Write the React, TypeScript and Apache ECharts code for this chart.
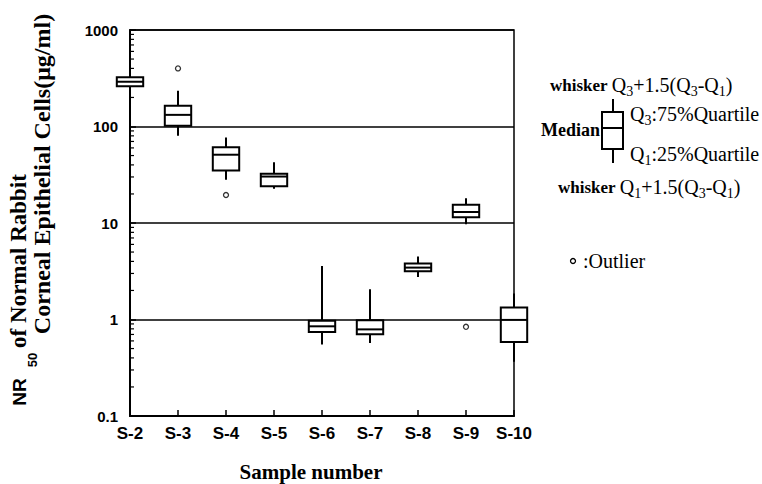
import React, { useEffect, useRef } from 'react';
import * as echarts from 'echarts';

const categories = ['S-2', 'S-3', 'S-4', 'S-5', 'S-6', 'S-7', 'S-8', 'S-9', 'S-10'];
const whiskerLow = [198, 80, 28, 22.6, 0.55, 0.57, 2.76, 9.7, 0.364];
const quartile1 = [261, 102, 35, 24, 0.74, 0.705, 3.16, 11.5, 0.586];
const medians = [291, 132, 51, 30.3, 0.85, 0.79, 3.45, 13, 0.99];
const quartile3 = [323, 164, 61, 32.3, 0.97, 0.98, 3.8, 15.5, 1.33];
const whiskerHigh = [372, 235, 77, 42.6, 3.58, 2.06, 4.5, 18.1, 1.86];
const outlierSamples = ['S-3', 'S-4', 'S-9'];
const outlierValues = [400, 19.5, 0.84];
const yTickLabels = ['0.1', '1', '10', '100', '1000'];
const minorMantissas = [2, 3, 4, 5, 6, 7, 8, 9];
const minorDecades = [0.1, 1, 10, 100];

const SANS = '"Liberation Sans", Arial, sans-serif';
const SERIF = '"Liberation Serif", "Times New Roman", serif';

export default function App() {
  const ref = useRef<HTMLDivElement>(null);
  useEffect(() => {
    document.body.style.margin = '0';
    const chart = echarts.init(ref.current!, null, { renderer: 'svg' });

    const boxData = categories.map((c, i) => [i, whiskerLow[i], quartile1[i], medians[i], quartile3[i], whiskerHigh[i]]);
    const outlierData = outlierSamples.map((s, i) => [categories.indexOf(s), outlierValues[i]]);
    const minorData: number[][] = [];
    minorDecades.forEach((d) => minorMantissas.forEach((m) => minorData.push([0, +(m * d).toPrecision(3)])));

    const black = '#000';
    const lw = 2;

    const subRich = {
      b: { fontFamily: SERIF, fontWeight: 'bold', fontSize: 17, lineHeight: 26, fill: black },
      q: { fontFamily: SERIF, fontSize: 20, lineHeight: 26, fill: black },
      s: { fontFamily: SERIF, fontSize: 14, lineHeight: 12, verticalAlign: 'bottom', fill: black },
    };

    const option: any = {
      animation: false,
      backgroundColor: '#fff',
      grid: { left: 130, right: 248, top: 30, bottom: 68, show: true, borderColor: black, borderWidth: 1.5, backgroundColor: 'transparent' },
      xAxis: {
        type: 'category',
        data: categories,
        boundaryGap: false,
        axisLine: { lineStyle: { color: black, width: 2 } },
        axisTick: { inside: true, length: 6, lineStyle: { color: black, width: 1.5 } },
        axisLabel: { color: black, fontFamily: SANS, fontWeight: 'bold', fontSize: 17, margin: 9 },
        splitLine: { show: false },
      },
      yAxis: {
        type: 'log',
        logBase: 10,
        min: 0.1,
        max: 1000,
        axisLine: { show: true, lineStyle: { color: black, width: 2 } },
        axisTick: { show: true, inside: true, length: 6, lineStyle: { color: black, width: 1.5 } },
        axisLabel: {
          color: black,
          fontFamily: SANS,
          fontWeight: 'bold',
          fontSize: 15,
          margin: 12,
          formatter: (v: number) => {
            const idx = Math.round(Math.log10(v)) + 1;
            return yTickLabels[idx] ?? '';
          },
        },
        splitLine: { show: true, lineStyle: { color: black, width: 1.5 } },
        minorTick: { show: false },
      },
      series: [
        {
          type: 'custom',
          name: 'minorTicks',
          data: minorData,
          encode: { x: 0, y: 1 },
          renderItem: (params: any, api: any) => {
            const p = api.coord([api.value(0), api.value(1)]);
            return {
              type: 'line',
              shape: { x1: p[0], y1: p[1], x2: p[0] + 4, y2: p[1] },
              style: { stroke: black, lineWidth: 1.2 },
            };
          },
          z: 3,
        },
        {
          type: 'custom',
          name: 'boxes',
          data: boxData,
          encode: { x: 0, y: [1, 2, 3, 4, 5] },
          renderItem: (params: any, api: any) => {
            const i = api.value(0);
            const lo = api.coord([i, api.value(1)]);
            const q1 = api.coord([i, api.value(2)]);
            const md = api.coord([i, api.value(3)]);
            const q3 = api.coord([i, api.value(4)]);
            const hi = api.coord([i, api.value(5)]);
            const w = api.size([1, 0])[0] * 0.55;
            const x = lo[0];
            return {
              type: 'group',
              children: [
                { type: 'line', shape: { x1: x, y1: hi[1], x2: x, y2: q3[1] }, style: { stroke: black, lineWidth: lw } },
                { type: 'line', shape: { x1: x, y1: q1[1], x2: x, y2: lo[1] }, style: { stroke: black, lineWidth: lw } },
                { type: 'rect', shape: { x: x - w / 2, y: q3[1], width: w, height: q1[1] - q3[1] }, style: { fill: '#fff', stroke: black, lineWidth: lw } },
                { type: 'line', shape: { x1: x - w / 2, y1: md[1], x2: x + w / 2, y2: md[1] }, style: { stroke: black, lineWidth: lw } },
              ],
            };
          },
          z: 4,
        },
        {
          type: 'scatter',
          name: 'outliers',
          data: outlierData,
          symbol: 'circle',
          symbolSize: 5,
          itemStyle: { color: '#fff', borderColor: black, borderWidth: 1.3 },
          z: 5,
        },
      ],
      graphic: [
        {
          type: 'text',
          x: 19,
          y: 392,
          rotation: Math.PI / 2,
          style: { text: 'NR', align: 'center', verticalAlign: 'middle', fontFamily: SANS, fontWeight: 'bold', fontSize: 19, fill: black },
        },
        {
          type: 'text',
          x: 32,
          y: 360,
          rotation: Math.PI / 2,
          style: { text: '50', align: 'center', verticalAlign: 'middle', fontFamily: SANS, fontWeight: 'bold', fontSize: 13, fill: black },
        },
        {
          type: 'text',
          x: 18,
          y: 261,
          rotation: Math.PI / 2,
          style: { text: 'of Normal Rabbit', align: 'center', verticalAlign: 'middle', fontFamily: SERIF, fontWeight: 'bold', fontSize: 23, fill: black },
        },
        {
          type: 'text',
          x: 42,
          y: 174,
          rotation: Math.PI / 2,
          style: {
            text: 'Corneal Epithelial Cells(μg/ml)',
            align: 'center',
            verticalAlign: 'middle',
            fontFamily: SERIF,
            fontWeight: 'bold',
            fontSize: 24,
            fill: black,
          },
        },
        {
          type: 'text',
          x: 311,
          y: 472,
          style: { text: 'Sample number', align: 'center', verticalAlign: 'middle', fontFamily: SERIF, fontWeight: 'bold', fontSize: 21, fill: black },
        },
        {
          type: 'text',
          x: 550,
          y: 85,
          style: {
            text: '{b|whisker }{q|Q}{s|3}{q|+1.5(Q}{s|3}{q|-Q}{s|1}{q|)}',
            align: 'left',
            verticalAlign: 'middle',
            rich: subRich,
          },
        },
        {
          type: 'text',
          x: 558,
          y: 187,
          style: {
            text: '{b|whisker }{q|Q}{s|1}{q|+1.5(Q}{s|3}{q|-Q}{s|1}{q|)}',
            align: 'left',
            verticalAlign: 'middle',
            rich: subRich,
          },
        },
        { type: 'line', shape: { x1: 613, y1: 99, x2: 613, y2: 112 }, style: { stroke: black, lineWidth: 2 } },
        { type: 'line', shape: { x1: 613, y1: 149, x2: 613, y2: 163 }, style: { stroke: black, lineWidth: 2 } },
        { type: 'rect', shape: { x: 602, y: 112, width: 21, height: 37 }, style: { fill: '#fff', stroke: black, lineWidth: 2 } },
        { type: 'line', shape: { x1: 602, y1: 128, x2: 623, y2: 128 }, style: { stroke: black, lineWidth: 2 } },
        {
          type: 'text',
          x: 600,
          y: 130,
          style: { text: 'Median', align: 'right', verticalAlign: 'middle', fontFamily: SERIF, fontWeight: 'bold', fontSize: 18, fill: black },
        },
        {
          type: 'text',
          x: 630,
          y: 114,
          style: { text: '{q|Q}{s|3}{q|:75%Quartile}', align: 'left', verticalAlign: 'middle', rich: subRich },
        },
        {
          type: 'text',
          x: 630,
          y: 154,
          style: { text: '{q|Q}{s|1}{q|:25%Quartile}', align: 'left', verticalAlign: 'middle', rich: subRich },
        },
        { type: 'circle', shape: { cx: 573, cy: 261, r: 2.5 }, style: { fill: '#fff', stroke: black, lineWidth: 1.3 } },
        {
          type: 'text',
          x: 583,
          y: 261,
          style: { text: ':Outlier', align: 'left', verticalAlign: 'middle', fontFamily: SERIF, fontSize: 20, fill: black },
        },
      ],
    };
    chart.setOption(option);
    return () => chart.dispose();
  }, []);
  return <div ref={ref} style={{ width: 762, height: 484 }} />;
}
